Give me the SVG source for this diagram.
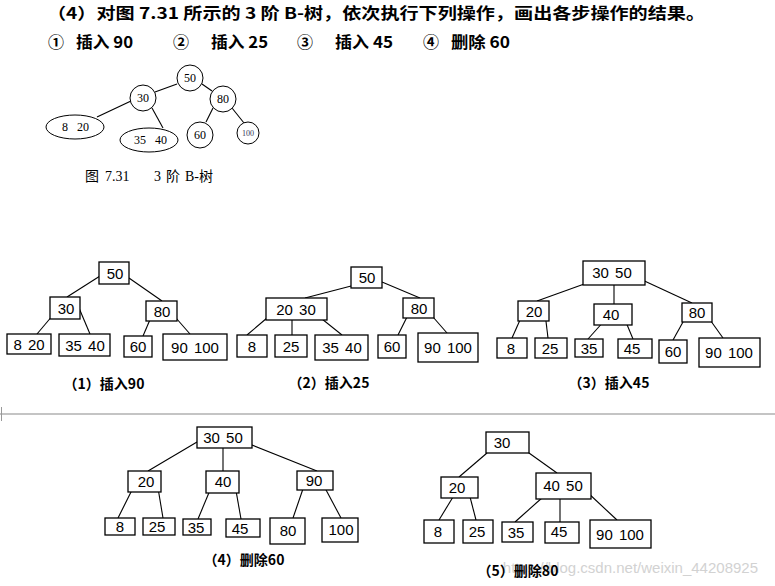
<svg xmlns="http://www.w3.org/2000/svg" width="775" height="586" viewBox="0 0 775 586">
<style>
.bx{fill:#fff;stroke:#000;stroke-width:1.3}
.ln{stroke:#000;stroke-width:1.1;fill:none}
.n{font-family:"Liberation Sans","DejaVu Sans",sans-serif;font-size:15px;text-anchor:middle;fill:#000;word-spacing:2px}
.c{fill:#fff;stroke:#000;stroke-width:1}
.cn{font-family:"Liberation Serif",serif;font-size:12px;text-anchor:middle;fill:#000}
.cap{font-family:"Noto Sans CJK SC","Liberation Sans",sans-serif;font-size:14px;font-weight:bold;text-anchor:middle;fill:#000}
.t{font-family:"Noto Sans CJK SC","Liberation Serif",serif;font-size:16px;font-weight:bold;fill:#000}
.fc{font-family:"Liberation Serif","Noto Sans CJK SC",serif;font-size:14px;fill:#000}
</style>
<rect width="775" height="586" fill="#fff"/>
<g id="title">
<text class="t" x="47" y="19" textLength="658" lengthAdjust="spacingAndGlyphs">（4）对图 7.31 所示的 3 阶 B-树，依次执行下列操作，画出各步操作的结果。</text>
<text class="t" x="48" y="48">①</text><text class="t" x="76" y="48" textLength="57" lengthAdjust="spacingAndGlyphs">插入 90</text>
<text class="t" x="173" y="48">②</text><text class="t" x="211" y="48" textLength="57" lengthAdjust="spacingAndGlyphs">插入 25</text>
<text class="t" x="297" y="48">③</text><text class="t" x="335" y="48" textLength="58" lengthAdjust="spacingAndGlyphs">插入 45</text>
<text class="t" x="423" y="48">④</text><text class="t" x="451" y="48" textLength="59" lengthAdjust="spacingAndGlyphs">删除 60</text>
</g>
<g id="fig731">
<g class="ln"><line x1="177" y1="84" x2="155" y2="92"/><line x1="202" y1="84" x2="212" y2="91"/><line x1="131" y1="101" x2="97" y2="117"/><line x1="152" y1="108" x2="163" y2="128"/><line x1="213" y1="108" x2="206" y2="122"/><line x1="232" y1="108" x2="244" y2="123"/></g>
<circle class="c" cx="190" cy="78" r="13"/><text class="cn" x="190" y="82">50</text>
<circle class="c" cx="143" cy="98" r="13"/><text class="cn" x="143" y="102">30</text>
<circle class="c" cx="223" cy="99" r="13"/><text class="cn" x="223" y="103">80</text>
<ellipse class="c" cx="75" cy="127" rx="29" ry="12"/><text class="cn" x="65" y="131">8</text><text class="cn" x="83" y="131">20</text>
<ellipse class="c" cx="149" cy="140" rx="29" ry="12"/><text class="cn" x="140" y="144">35</text><text class="cn" x="161" y="144">40</text>
<circle class="c" cx="200" cy="135" r="13"/><text class="cn" x="200" y="139">60</text>
<circle class="c" cx="248" cy="133" r="11"/><text class="cn" x="248" y="136" style="font-size:8px;fill:#335">100</text>
<text class="fc" x="85" y="181">图</text><text class="fc" x="105" y="181">7.31</text><text class="fc" x="154" y="181">3</text><text class="fc" x="166" y="181">阶</text><text class="fc" x="185" y="181">B-树</text>
</g>
<rect id="sep" x="0" y="413" width="775" height="2" fill="#c4c4c4"/>
<path d="M1.5 407 V421" stroke="#999" stroke-width="1" fill="none"/>
<g id="connectors">
<g class="ln">
<line x1="100" y1="276" x2="67" y2="297"/><line x1="129" y1="278" x2="162" y2="301"/><line x1="53" y1="315" x2="37" y2="334"/><line x1="79" y1="308" x2="90" y2="334"/><line x1="152" y1="315" x2="143" y2="336"/><line x1="176" y1="318" x2="190" y2="334"/>
<line x1="355" y1="285" x2="305" y2="298"/><line x1="382" y1="282" x2="420" y2="298"/><line x1="267" y1="318" x2="247" y2="335"/><line x1="292" y1="312" x2="292" y2="335"/><line x1="317" y1="315" x2="342" y2="335"/><line x1="408" y1="315" x2="398" y2="335"/><line x1="433" y1="317" x2="447" y2="333"/>
<line x1="587" y1="283" x2="537" y2="301"/><line x1="614" y1="279" x2="614" y2="304"/><line x1="638" y1="278" x2="692" y2="303"/><line x1="520" y1="320" x2="512" y2="338"/><line x1="545" y1="313" x2="548" y2="338"/><line x1="605" y1="320" x2="588" y2="339"/><line x1="623" y1="315" x2="633" y2="339"/><line x1="683" y1="322" x2="673" y2="340"/><line x1="708" y1="317" x2="723" y2="338"/>
<line x1="197" y1="442" x2="148" y2="471"/><line x1="223" y1="442" x2="223" y2="471"/><line x1="247" y1="443" x2="317" y2="471"/><line x1="133" y1="488" x2="118" y2="518"/><line x1="158" y1="488" x2="163" y2="518"/><line x1="213" y1="483" x2="198" y2="519"/><line x1="235" y1="485" x2="241" y2="519"/><line x1="305" y1="483" x2="293" y2="518"/><line x1="325" y1="488" x2="341" y2="518"/>
<line x1="487" y1="453" x2="459" y2="477"/><line x1="522" y1="448" x2="557" y2="473"/><line x1="453" y1="497" x2="439" y2="520"/><line x1="469" y1="493" x2="476" y2="520"/><line x1="543" y1="497" x2="515" y2="522"/><line x1="560" y1="492" x2="560" y2="522"/><line x1="587" y1="492" x2="617" y2="520"/>
</g>
</g>
<g id="t1">
<g id="t1-r"><rect class="bx" x="99" y="262" width="30" height="22"/><text class="n" x="115" y="279">50</text></g>
<g id="t1-30"><rect class="bx" x="50" y="297" width="30" height="22"/><text class="n" x="66" y="314">30</text></g>
<g id="t1-80"><rect class="bx" x="146" y="301" width="31" height="20"/><text class="n" x="162" y="317">80</text></g>
<g id="t1-l1"><rect class="bx" x="7" y="334" width="44" height="20"/><text class="n" x="29" y="350">8 20</text></g>
<g id="t1-l2"><rect class="bx" x="59" y="334" width="51" height="22"/><text class="n" x="85" y="351">35 40</text></g>
<g id="t1-l3"><rect class="bx" x="124" y="336" width="28" height="21"/><text class="n" x="138" y="352">60</text></g>
<g id="t1-l4"><rect class="bx" x="163" y="334" width="64" height="26"/><text class="n" x="195" y="353">90 100</text></g>
<text class="cap" x="104" y="389">（1）插入90</text>
</g>
<g id="t2">
<g id="t2-r"><rect class="bx" x="351" y="267" width="31" height="21"/><text class="n" x="367" y="283">50</text></g>
<g id="t2-a"><rect class="bx" x="266" y="298" width="61" height="22"/><text class="n" x="296" y="315">20 30</text></g>
<g id="t2-b"><rect class="bx" x="403" y="298" width="31" height="20"/><text class="n" x="419" y="314">80</text></g>
<g id="t2-l1"><rect class="bx" x="237" y="335" width="30" height="22"/><text class="n" x="252" y="352">8</text></g>
<g id="t2-l2"><rect class="bx" x="275" y="335" width="32" height="22"/><text class="n" x="291" y="352">25</text></g>
<g id="t2-l3"><rect class="bx" x="315" y="335" width="53" height="25"/><text class="n" x="342" y="353">35 40</text></g>
<g id="t2-l4"><rect class="bx" x="378" y="335" width="28" height="23"/><text class="n" x="392" y="352">60</text></g>
<g id="t2-l5"><rect class="bx" x="418" y="333" width="60" height="29"/><text class="n" x="448" y="353">90 100</text></g>
<text class="cap" x="329" y="388">（2）插入25</text>
</g>
<g id="t3">
<g id="t3-r"><rect class="bx" x="583" y="261" width="62" height="24"/><text class="n" x="612" y="278">30 50</text></g>
<g id="t3-a"><rect class="bx" x="518" y="301" width="31" height="20"/><text class="n" x="534" y="317">20</text></g>
<g id="t3-b"><rect class="bx" x="594" y="304" width="38" height="21"/><text class="n" x="611" y="320">40</text></g>
<g id="t3-c"><rect class="bx" x="682" y="303" width="30" height="19"/><text class="n" x="697" y="318">80</text></g>
<g id="t3-l1"><rect class="bx" x="497" y="338" width="30" height="20"/><text class="n" x="511" y="354">8</text></g>
<g id="t3-l2"><rect class="bx" x="535" y="338" width="32" height="20"/><text class="n" x="550" y="354">25</text></g>
<g id="t3-l3"><rect class="bx" x="575" y="339" width="28" height="18"/><text class="n" x="589" y="354">35</text></g>
<g id="t3-l4"><rect class="bx" x="618" y="339" width="34" height="19"/><text class="n" x="632" y="354">45</text></g>
<g id="t3-l5"><rect class="bx" x="659" y="340" width="28" height="23"/><text class="n" x="673" y="357">60</text></g>
<g id="t3-l6"><rect class="bx" x="699" y="338" width="61" height="29"/><text class="n" x="729" y="358">90 100</text></g>
<text class="cap" x="609" y="388">（3）插入45</text>
</g>
<g id="t4">
<g id="t4-r"><rect class="bx" x="197" y="427" width="55" height="21"/><text class="n" x="223" y="443">30 50</text></g>
<g id="t4-a"><rect class="bx" x="128" y="471" width="33" height="21"/><text class="n" x="146" y="487">20</text></g>
<g id="t4-b"><rect class="bx" x="206" y="471" width="33" height="22"/><text class="n" x="223" y="487">40</text></g>
<g id="t4-c"><rect class="bx" x="297" y="471" width="36" height="19"/><text class="n" x="314" y="486">90</text></g>
<g id="t4-l1"><rect class="bx" x="105" y="518" width="30" height="17"/><text class="n" x="120" y="532">8</text></g>
<g id="t4-l2"><rect class="bx" x="143" y="518" width="32" height="17"/><text class="n" x="157" y="532">25</text></g>
<g id="t4-l3"><rect class="bx" x="183" y="519" width="28" height="16"/><text class="n" x="196" y="533">35</text></g>
<g id="t4-l4"><rect class="bx" x="226" y="519" width="34" height="18"/><text class="n" x="240" y="534">45</text></g>
<g id="t4-l5"><rect class="bx" x="270" y="518" width="35" height="26"/><text class="n" x="288" y="536">80</text></g>
<g id="t4-l6"><rect class="bx" x="322" y="518" width="36" height="24"/><text class="n" x="341" y="535">100</text></g>
<text class="cap" x="244" y="565">（4）删除60</text>
</g>
<g id="t5">
<g id="t5-r"><rect class="bx" x="486" y="432" width="43" height="21"/><text class="n" x="502" y="448">30</text></g>
<g id="t5-a"><rect class="bx" x="441" y="477" width="37" height="21"/><text class="n" x="457" y="493">20</text></g>
<g id="t5-b"><rect class="bx" x="536" y="473" width="55" height="26"/><text class="n" x="563" y="491">40 50</text></g>
<g id="t5-l1"><rect class="bx" x="424" y="520" width="30" height="23"/><text class="n" x="438" y="537">8</text></g>
<g id="t5-l2"><rect class="bx" x="463" y="520" width="30" height="23"/><text class="n" x="477" y="537">25</text></g>
<g id="t5-l3"><rect class="bx" x="502" y="522" width="31" height="20"/><text class="n" x="516" y="538">35</text></g>
<g id="t5-l4"><rect class="bx" x="545" y="522" width="34" height="21"/><text class="n" x="559" y="537">45</text></g>
<g id="t5-l5"><rect class="bx" x="590" y="520" width="61" height="28"/><text class="n" x="620" y="540">90 100</text></g>
</g>
<text x="758" y="573" text-anchor="end" style="font-family:'Liberation Sans',sans-serif;font-size:15px;fill:#d2d2d2">https://blog.csdn.net/weixin_44208925</text>
<text class="cap" x="518" y="576">（5）删除80</text>
</svg>
